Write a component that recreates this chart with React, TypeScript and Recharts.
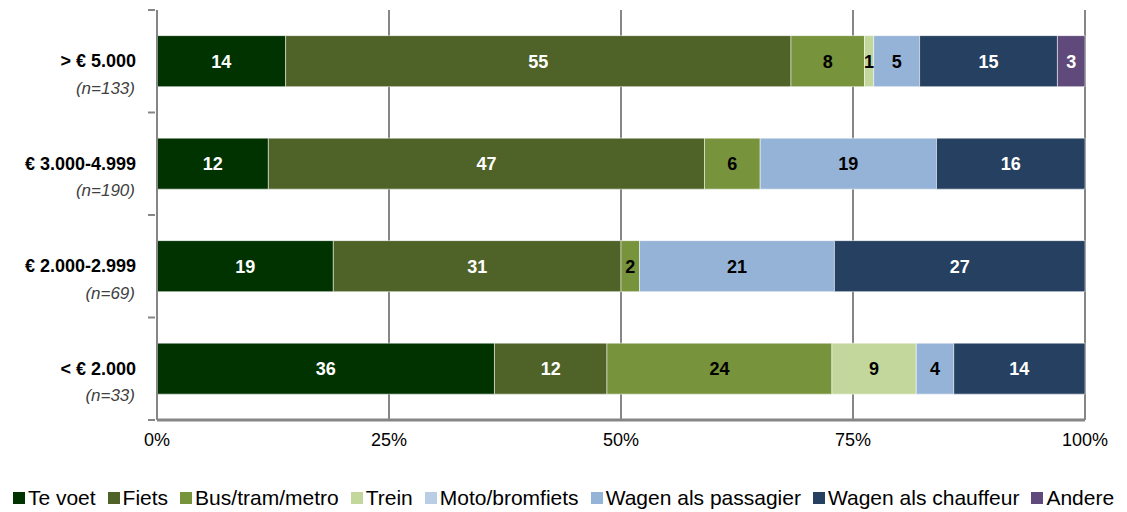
import React from 'react';
import { BarChart, Bar, XAxis, YAxis, CartesianGrid, LabelList } from 'recharts';

// income groups and sample sizes
const categories = ['> € 5.000', '€ 3.000-4.999', '€ 2.000-2.999', '< € 2.000'];
const sampleSizes = ['(n=133)', '(n=190)', '(n=69)', '(n=33)'];

// share per transport mode (%)
const teVoet = [14, 12, 19, 36];
const fiets = [55, 47, 31, 12];
const busTramMetro = [8, 6, 2, 24];
const trein = [1, 0, 0, 9];
const moto = [0, 0, 0, 0];
const passagier = [5, 19, 21, 4];
const chauffeur = [15, 16, 27, 14];
const andere = [3, 0, 0, 0];

const xTicks = [0, 0.25, 0.5, 0.75, 1];

const series = [
  { key: 'teVoet', name: 'Te voet', values: teVoet, color: '#003300', label: '#ffffff' },
  { key: 'fiets', name: 'Fiets', values: fiets, color: '#4f6228', label: '#ffffff' },
  { key: 'bus', name: 'Bus/tram/metro', values: busTramMetro, color: '#77933c', label: '#000000' },
  { key: 'trein', name: 'Trein', values: trein, color: '#c3d69b', label: '#000000' },
  { key: 'moto', name: 'Moto/bromfiets', values: moto, color: '#b9cde5', label: '#000000' },
  { key: 'passagier', name: 'Wagen als passagier', values: passagier, color: '#95b3d7', label: '#000000' },
  { key: 'chauffeur', name: 'Wagen als chauffeur', values: chauffeur, color: '#254061', label: '#ffffff' },
  { key: 'andere', name: 'Andere', values: andere, color: '#604a7b', label: '#ffffff' },
];

const data = categories.map((name, i) => {
  const row: Record<string, any> = { name, n: sampleSizes[i] };
  series.forEach((s) => { row[s.key] = s.values[i]; });
  return row;
});

const FONT = '"Liberation Sans", Arial, sans-serif';
const GREY = '#868686';

function CategoryTick(props: any) {
  const { x, y, payload, index } = props;
  const off = payload?.offset || 51;
  return (
    <g>
      <text x={x - 19} y={y} textAnchor="end" dominantBaseline="central"
        fontFamily={FONT} fontWeight="bold" fontSize={18} fill="#000">
        {payload.value}
      </text>
      <text x={x - 20} y={y + 27} textAnchor="end" dominantBaseline="central"
        fontFamily={FONT} fontStyle="italic" fontSize={17} fill="#404040">
        {sampleSizes[index]}
      </text>
      <line x1={x - 7} x2={x} y1={y - off} y2={y - off} stroke={GREY} strokeWidth={2} />
      {index === categories.length - 1 && (
        <line x1={x - 7} x2={x} y1={y + off} y2={y + off} stroke={GREY} strokeWidth={2} />
      )}
    </g>
  );
}

export default function App() {
  return (
    <div style={{ position: 'absolute', left: 0, top: 0, width: 1127, height: 512, background: '#fff' }}>
      <BarChart
        width={1127}
        height={460}
        data={data}
        layout="vertical"
        stackOffset="expand"
        barCategoryGap="25%"
        margin={{ top: 10, right: 42, bottom: 10, left: 0 }}
      >
        <CartesianGrid horizontal={false} stroke={GREY} strokeWidth={2} />
        <XAxis
          type="number"
          domain={[0, 1]}
          ticks={xTicks}
          tickFormatter={(v: number) => `${Math.round(v * 100)}%`}
          axisLine={{ stroke: GREY, strokeWidth: 3 }}
          tickLine={false}
          tickSize={0}
          tickMargin={13}
          height={30}
          tick={{ fill: '#000', fontSize: 18, fontFamily: FONT }}
        />
        <YAxis
          type="category"
          dataKey="name"
          width={157}
          axisLine={{ stroke: GREY, strokeWidth: 2 }}
          tickLine={false}
          tickSize={0}
          tick={<CategoryTick />}
        />
        {series.map((s) => (
          <Bar key={s.key} dataKey={s.key} name={s.name} stackId="a" fill={s.color}
            stroke="#ffffff" strokeOpacity={0.5} strokeWidth={1} isAnimationActive={false}>
            <LabelList
              dataKey={s.key}
              position="center"
              formatter={(v: any) => (v ? v : '')}
              fill={s.label}
              fontSize={18}
              fontWeight="bold"
              fontFamily={FONT}
            />
          </Bar>
        ))}
      </BarChart>
      <div style={{
        position: 'absolute', top: 486, left: 0, width: 1127, display: 'flex',
        justifyContent: 'center', gap: 12, fontFamily: FONT,
        fontSize: 21, color: '#000', whiteSpace: 'nowrap',
      }}>
        {series.map((s) => (
          <div key={s.key} style={{ display: 'flex', alignItems: 'center' }}>
            <span style={{ display: 'inline-block', width: 12, height: 12, background: s.color, marginRight: 3 }} />
            <span>{s.name}</span>
          </div>
        ))}
      </div>
    </div>
  );
}
